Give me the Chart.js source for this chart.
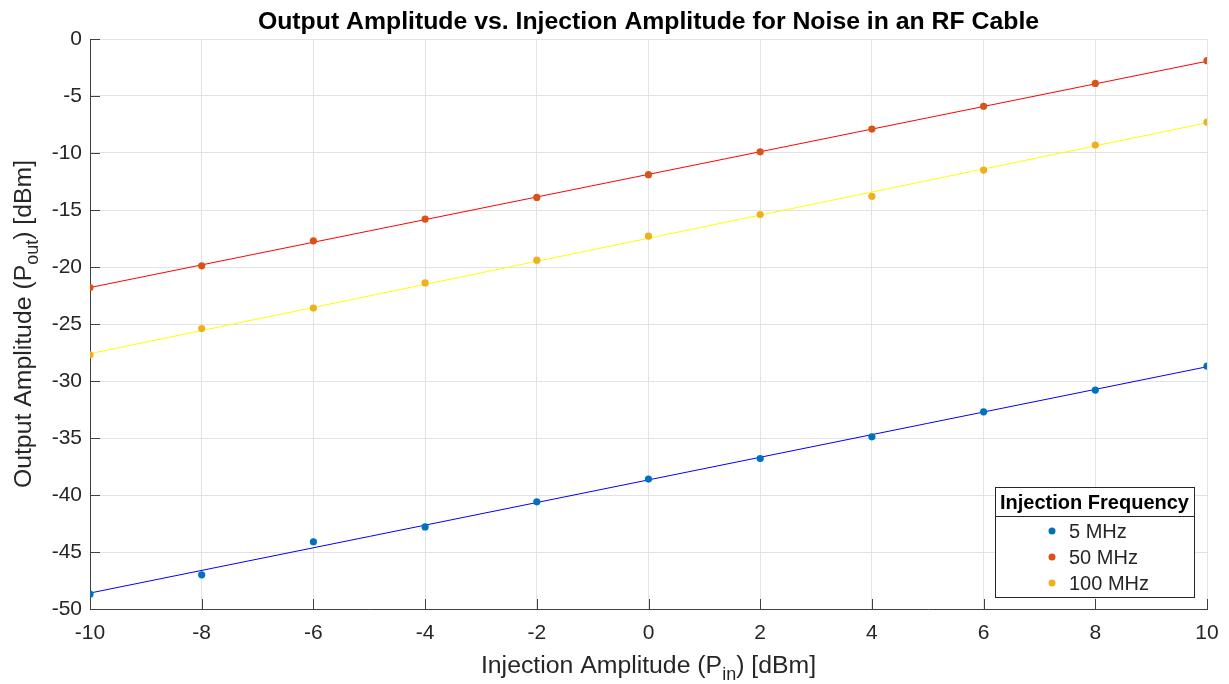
<!DOCTYPE html>
<html>
<head>
<meta charset="utf-8">
<script src="https://cdn.jsdelivr.net/npm/chart.js@4/dist/chart.umd.min.js"></script>
<style>
  html, body { margin: 0; padding: 0; background: #fff; }
  #wrap { width: 1229px; height: 684px; }
</style>
</head>
<body>
<div id="wrap"><canvas id="plot" width="1229" height="684"></canvas></div>
<script>
// Output amplitude vs injection amplitude, noise in an RF cable

const injection = [-10, -8, -6, -4, -2, 0, 2, 4, 6, 8, 10];
const out5 = [-48.7, -47.0, -44.1, -42.8, -40.6, -38.6, -36.8, -34.9, -32.7, -30.8, -28.7];
const out50 = [-21.8, -19.9, -17.7, -15.8, -13.9, -11.9, -9.9, -7.9, -5.9, -3.9, -1.9];
const out100 = [-27.7, -25.4, -23.6, -21.4, -19.4, -17.3, -15.4, -13.8, -11.5, -9.3, -7.3];

// linear fit lines, endpoints
const fitX = [-10, 10];
const fit5 = [-48.6, -28.75];
const fit50 = [-21.8, -1.95];
const fit100 = [-27.6, -7.35];

const seriesLabels = ['5 MHz', '50 MHz', '100 MHz'];
const pointColors = ['#0072BD', '#D95319', '#EDB120'];
const lineColors = ['#0000FF', '#FF0000', '#FFFF00'];

const xTicks = [-10, -8, -6, -4, -2, 0, 2, 4, 6, 8, 10];
const yTicks = [-50, -45, -40, -35, -30, -25, -20, -15, -10, -5, 0];

const TXT = '#262626';
const FONT = 'Arial, "Liberation Sans", Helvetica, sans-serif';

function pts(xs, ys){ return xs.map((x, i) => ({ x: x, y: ys[i] })); }

// text with a subscript part, drawn left to right from x
function subText(ctx, parts, x, y, size, measureOnly){
    let w = 0;
    parts.forEach(p => {
        const s = p.sub ? Math.round(size * 0.72) : size;
        ctx.font = s + 'px ' + FONT;
        if (!measureOnly) ctx.fillText(p.t, x + w, y + (p.sub ? size * 0.28 : 0));
        w += ctx.measureText(p.t).width;
    });
    return w;
}

const decor = {
    id: 'decor',
    afterDraw(chart){
        const ctx = chart.ctx;
        const a = chart.chartArea;
        const xs = chart.scales.x, ys = chart.scales.y;
        ctx.save();

        // inner tick marks
        ctx.strokeStyle = '#404040';
        ctx.lineWidth = 1;
        ctx.beginPath();
        xTicks.forEach(v => {
            const px = Math.round(xs.getPixelForValue(v)) + 0.5;
            ctx.moveTo(px, a.bottom); ctx.lineTo(px, a.bottom - 10);
        });
        yTicks.forEach(v => {
            const py = Math.round(ys.getPixelForValue(v)) + 0.5;
            ctx.moveTo(a.left, py); ctx.lineTo(a.left + 10, py);
        });
        ctx.stroke();

        // title
        ctx.fillStyle = '#000';
        ctx.textAlign = 'center';
        ctx.textBaseline = 'alphabetic';
        ctx.font = 'bold 24.8px ' + FONT;
        ctx.fillText('Output Amplitude vs. Injection Amplitude for Noise in an RF Cable', (a.left + a.right) / 2, 29);

        // axis titles
        ctx.fillStyle = TXT;
        ctx.textAlign = 'left';
        const xParts = [{ t: 'Injection Amplitude (P' }, { t: 'in', sub: true }, { t: ') [dBm]' }];
        const xw = subText(ctx, xParts, 0, 0, 24.8, true);
        subText(ctx, xParts, (a.left + a.right) / 2 - xw / 2, 673, 24.8);

        const yParts = [{ t: 'Output Amplitude (P' }, { t: 'out', sub: true }, { t: ') [dBm]' }];
        const yw = subText(ctx, yParts, 0, 0, 24.8, true);
        ctx.save();
        ctx.translate(31, 324);
        ctx.rotate(-Math.PI / 2);
        subText(ctx, yParts, -yw / 2, 0, 24.8);
        ctx.restore();

        // legend box
        const bx = 995, by = 487, bw = 199, bh = 110;
        ctx.fillStyle = '#fff';
        ctx.fillRect(bx, by, bw, bh);
        ctx.strokeStyle = '#262626';
        ctx.lineWidth = 1;
        ctx.strokeRect(bx + 0.5, by + 0.5, bw, bh);
        ctx.beginPath();
        ctx.moveTo(bx, by + 29.5); ctx.lineTo(bx + bw, by + 29.5);
        ctx.stroke();
        ctx.fillStyle = '#000';
        ctx.textAlign = 'center';
        ctx.textBaseline = 'middle';
        ctx.font = 'bold 20px ' + FONT;
        ctx.fillText('Injection Frequency', bx + bw / 2, by + 16);
        ctx.textAlign = 'left';
        ctx.font = '20px ' + FONT;
        seriesLabels.forEach((lab, i) => {
            const cy = 531 + i * 26;
            ctx.fillStyle = pointColors[i];
            ctx.beginPath();
            ctx.arc(1052, cy, 3.5, 0, Math.PI * 2);
            ctx.fill();
            ctx.fillStyle = TXT;
            ctx.fillText(lab, 1069, cy + 1);
        });
        ctx.restore();
    }
};

const pointSets = [out5, out50, out100].map((ys, i) => ({
    label: seriesLabels[i],
    data: pts(injection, ys),
    showLine: false,
    pointRadius: 3.6,
    pointBorderWidth: 0,
    backgroundColor: pointColors[i],
    borderColor: pointColors[i],
    order: 0
}));
const fitSets = [fit5, fit50, fit100].map((ys, i) => ({
    label: 'fit ' + seriesLabels[i],
    data: pts(fitX, ys),
    showLine: true,
    pointRadius: 0,
    borderWidth: 1,
    borderColor: lineColors[i],
    order: 1
}));

new Chart(document.getElementById('plot'), {
    type: 'scatter',
    data: { datasets: fitSets.concat(pointSets) },
    options: {
        responsive: false,
        animation: false,
        layout: { padding: { left: 0, right: 22, top: 39, bottom: 0 } },
        plugins: { legend: { display: false }, title: { display: false }, tooltip: { enabled: false } },
        scales: {
            x: {
                type: 'linear', min: -10, max: 10,
                afterFit: s => { s.height = 75; s.paddingLeft = 0; s.paddingRight = 0; },
                afterBuildTicks: s => { s.ticks = xTicks.map(v => ({ value: v })); },
                ticks: { color: TXT, font: { family: FONT, size: 21 }, padding: 12, maxRotation: 0 },
                grid: { color: '#e3e3e3', drawTicks: false },
                border: { color: '#404040' }
            },
            y: {
                type: 'linear', min: -50, max: 0,
                afterFit: s => { s.width = 90; s.paddingTop = 0; s.paddingBottom = 0; },
                afterBuildTicks: s => { s.ticks = yTicks.map(v => ({ value: v })); },
                ticks: { color: TXT, font: { family: FONT, size: 21 }, padding: 8 },
                grid: { color: '#e3e3e3', drawTicks: false },
                border: { color: '#404040' }
            }
        }
    },
    plugins: [decor]
});
</script>
</body>
</html>
